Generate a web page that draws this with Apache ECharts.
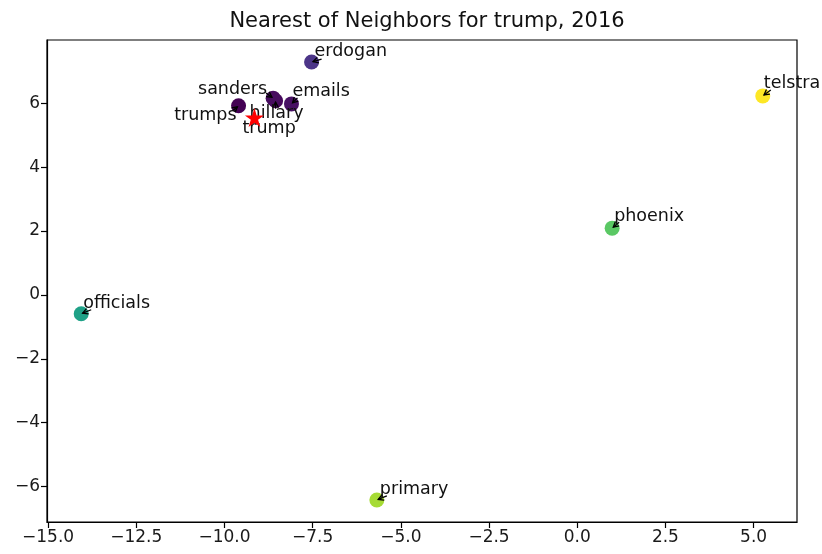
<!DOCTYPE html>
<html>
<head>
<meta charset="utf-8">
<title>Nearest of Neighbors for trump, 2016</title>
<script src="https://cdn.jsdelivr.net/npm/echarts@6/dist/echarts.min.js"></script>
<style>
  html, body { margin: 0; padding: 0; background: #fff; }
  #chart { width: 822px; height: 554px; }
</style>
</head>
<body>
<div id="chart"></div>
<script>
// Neighbouring words in the 2D projection
const words = ['hillary', 'sanders', 'trumps', 'emails', 'erdogan', 'officials', 'phoenix', 'primary', 'telstra'];
const xs = [-8.55, -8.62, -9.60, -8.10, -7.53, -14.06, 0.99, -5.68, 5.26];
const ys = [6.08, 6.16, 5.92, 5.98, 7.29, -0.59, 2.09, -6.42, 6.23];

// The query word itself
const targetWord = 'trump';
const targetX = -9.15;
const targetY = 5.55;

// Axis ticks
const xTicks = [-15, -12.5, -10, -7.5, -5, -2.5, 0, 2.5, 5];
const yTicks = [-6, -4, -2, 0, 2, 4, 6];

const titleText = 'Nearest of Neighbors for trump, 2016';

// ---- styling ----
const FONT = "'DejaVu Sans', sans-serif";
const pointColors = {
  hillary: '#46085c', sanders: '#470c5f', trumps: '#440154', emails: '#471063',
  erdogan: '#4c3588', officials: '#1fa187', phoenix: '#5ac864', primary: '#a6db35', telstra: '#fde725'
};
// label placement in pixels relative to the marker: text offset, alignment, arrow tail
const labelLayout = {
  hillary:   { dx: -26, dy: 13,  align: 'left',  tail: [0, 8] },
  sanders:   { dx: -6,  dy: -9,  align: 'right', tail: [-7, -5] },
  trumps:    { dx: -2,  dy: 10,  align: 'right', tail: [-6, 5] },
  emails:    { dx: 1,   dy: -12, align: 'left',  tail: [6, -6] },
  erdogan:   { dx: 3,   dy: -11, align: 'left',  tail: [10, -3] },
  officials: { dx: 2,   dy: -10, align: 'left',  tail: [10, -4] },
  phoenix:   { dx: 2,   dy: -12, align: 'left',  tail: [7, -6] },
  primary:   { dx: 3,   dy: -11, align: 'left',  tail: [10, -4] },
  telstra:   { dx: 1,   dy: -12, align: 'left',  tail: [8, -6] },
  trump:     { dx: -12, dy: 11,  align: 'left',  tail: [-1, 6] }
};

const fmtX = (v) => {
  const s = Math.abs(v).toFixed(1);
  return v < 0 ? '\u2212' + s : s;
};
const fmtY = (v) => (v < 0 ? '\u2212' + Math.abs(v) : String(v));

// five-pointed star marker
function starPath() {
  const pts = [];
  for (let i = 0; i < 10; i++) {
    const r = i % 2 === 0 ? 1 : 0.382;
    const a = -Math.PI / 2 + i * Math.PI / 5;
    pts.push((r * Math.cos(a)).toFixed(4) + ' ' + (r * Math.sin(a)).toFixed(4));
  }
  return 'path://M' + pts.join(' L') + ' Z';
}

const scatterData = words.map((w, i) => ({
  name: w,
  value: [xs[i], ys[i]],
  itemStyle: { color: pointColors[w], opacity: 1 }
}));

const labelData = words.map((w, i) => [xs[i], ys[i], i]);
labelData.push([targetX, targetY, -1]);

function renderLabel(params, api) {
  const idx = api.value(2);
  const word = idx < 0 ? targetWord : words[idx];
  const lay = labelLayout[word];
  const p = api.coord([api.value(0), api.value(1)]);
  const tx = p[0] + lay.tail[0], ty = p[1] + lay.tail[1];
  const len = Math.hypot(lay.tail[0], lay.tail[1]) || 1;
  const ux = lay.tail[0] / len, uy = lay.tail[1] / len;
  const hx = p[0] + ux * 1.5, hy = p[1] + uy * 1.5;
  const hl = 6, ang = 0.5;
  const c = Math.cos(ang), s = Math.sin(ang);
  const w1 = [hx + hl * (ux * c - uy * s), hy + hl * (ux * s + uy * c)];
  const w2 = [hx + hl * (ux * c + uy * s), hy + hl * (-ux * s + uy * c)];
  const stroke = { stroke: '#000', lineWidth: 1.3, fill: null };
  return {
    type: 'group',
    children: [
      { type: 'line', shape: { x1: tx, y1: ty, x2: hx, y2: hy }, style: stroke },
      { type: 'polyline', shape: { points: [w1, [hx, hy], w2] }, style: stroke },
      {
        type: 'text',
        style: {
          x: p[0] + lay.dx, y: p[1] + lay.dy,
          text: word, fill: '#111',
          font: '17.5px ' + FONT,
          align: lay.align, verticalAlign: 'middle'
        }
      }
    ]
  };
}

const chart = echarts.init(document.getElementById('chart'), null, { renderer: 'canvas' });
chart.setOption({
  animation: false,
  backgroundColor: '#ffffff',
  title: {
    text: titleText,
    left: 422, top: 6, textAlign: 'center',
    textStyle: { fontFamily: FONT, fontSize: 21, fontWeight: 'normal', color: '#111' }
  },
  grid: {
    left: 47, right: 25, top: 40, bottom: 32,
    show: true, borderColor: '#000', borderWidth: 1.2, backgroundColor: 'transparent'
  },
  xAxis: {
    type: 'value', min: -15.03, max: 6.23,
    axisLine: { show: true, onZero: false, lineStyle: { color: '#000', width: 1.2 } },
    axisTick: { show: true, length: 6, customValues: xTicks, lineStyle: { color: '#000', width: 1.2 } },
    axisLabel: {
      customValues: xTicks, formatter: fmtX, margin: 7,
      fontFamily: FONT, fontSize: 17, color: '#1a1a1a'
    },
    splitLine: { show: false }
  },
  yAxis: {
    type: 'value', min: -7.11, max: 7.98,
    axisLine: { show: true, onZero: false, lineStyle: { color: '#000', width: 1.2 } },
    axisTick: { show: true, length: 6, customValues: yTicks, lineStyle: { color: '#000', width: 1.2 } },
    axisLabel: {
      customValues: yTicks, formatter: fmtY, margin: 7,
      fontFamily: FONT, fontSize: 17, color: '#1a1a1a'
    },
    splitLine: { show: false }
  },
  series: [
    {
      type: 'scatter',
      data: scatterData,
      symbol: 'circle',
      symbolSize: 15,
      z: 2
    },
    {
      type: 'custom',
      data: labelData,
      renderItem: renderLabel,
      z: 3,
      clip: false
    },
    {
      type: 'scatter',
      data: [[targetX, targetY]],
      symbol: starPath(),
      symbolSize: 19,
      itemStyle: { color: '#ff0000', opacity: 1 },
      z: 4
    }
  ]
});
</script>
</body>
</html>
